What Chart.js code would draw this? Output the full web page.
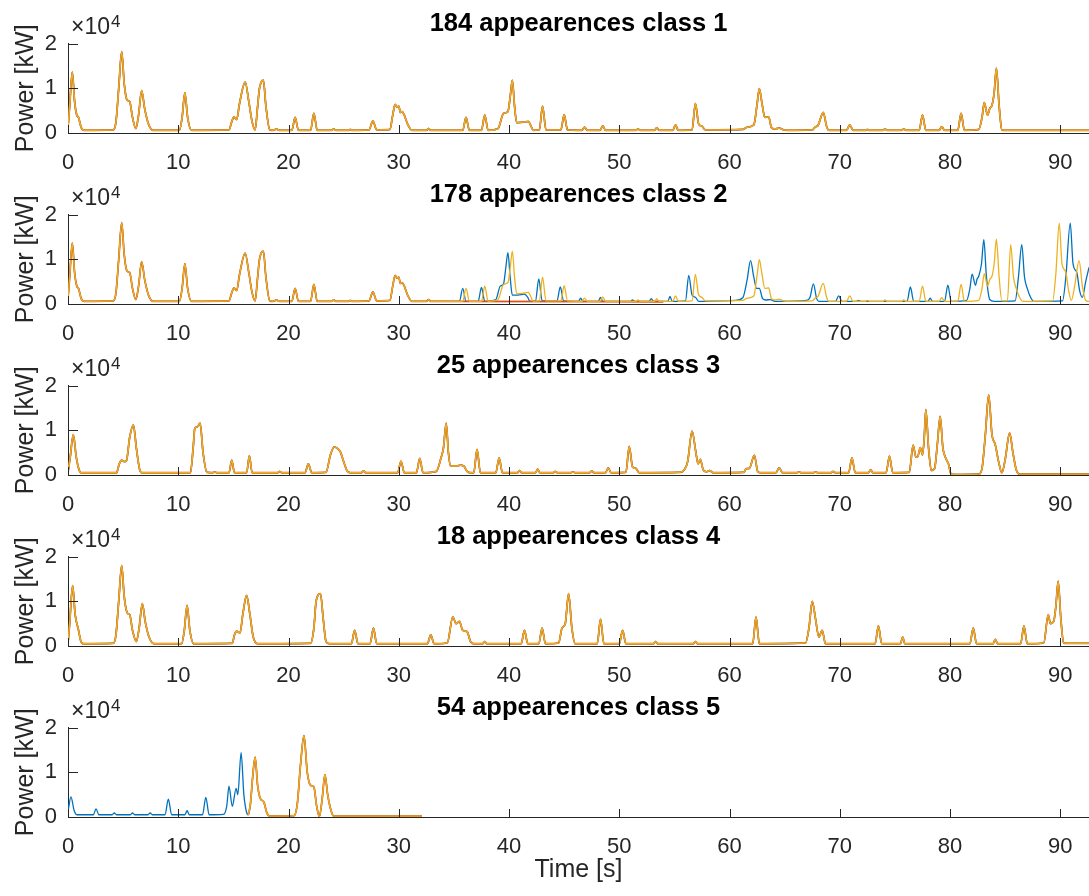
<!DOCTYPE html>
<html>
<head>
<meta charset="utf-8">
<script src="https://cdn.jsdelivr.net/npm/chart.js@4.4.0/dist/chart.umd.min.js"></script>
<style>
  html, body { margin: 0; padding: 0; background: #fff; }
  #figure { position: relative; width: 1089px; height: 896px; overflow: hidden; }
  #figure canvas { position: absolute; left: 0; }
</style>
</head>
<body>
<div id="figure"></div>
<script>
// axis setup
const timeMax = 92.6;
const timeStep = 10;
const powerMax = 20000;
const powerStep = 10000;
const classTitles = [
    '184 appearences class 1',
    '178 appearences class 2',
    '25 appearences class 3',
    '18 appearences class 4',
    '54 appearences class 5'
];

// [time s, power W]
const class1Trace = [
    [0, 1200], [0.15, 6000], [0.39, 13600], [0.6, 7000], [0.8, 4000], [0.95, 3500], [1.2, 1200], [1.5, 600],
    [4.1, 700], [4.35, 2500], [4.6, 10000], [4.87, 18200], [5.1, 11000], [5.35, 7400], [5.6, 7000], [5.85, 3500], [6.15, 1000], [6.4, 4000], [6.68, 9500], [6.95, 5500], [7.3, 2000], [7.75, 600],
    [10.1, 600], [10.35, 3500], [10.6, 9000], [10.85, 3500], [11.2, 600],
    [14.6, 700], [14.85, 2500], [15.05, 3600], [15.3, 3000], [15.55, 6500], [16.07, 11400], [16.4, 7000], [16.7, 2500], [16.97, 700], [17.2, 6000], [17.36, 9900], [17.72, 11800], [17.95, 6000], [18.3, 700], [18.6, 600], [18.9, 900], [19.2, 600],
    [20.3, 600], [20.6, 3500], [20.9, 600],
    [22.0, 600], [22.3, 4400], [22.6, 600],
    [23.9, 600], [24.1, 900], [24.3, 600],
    [25.4, 600], [25.6, 800], [25.8, 600],
    [27.3, 700], [27.65, 2700], [28.0, 700],
    [29.2, 800], [29.45, 4000], [29.67, 6400], [29.85, 5800], [30.0, 6000], [30.15, 4600], [30.3, 4800], [30.5, 4000], [30.8, 2000], [31.2, 600],
    [32.5, 600], [32.7, 1000], [32.9, 600],
    [35.8, 600], [36.1, 3500], [36.4, 600],
    [37.5, 600], [37.8, 4000], [38.1, 600],
    [39.0, 1000], [39.5, 4400], [39.9, 4800], [40.1, 8000], [40.3, 11800], [40.5, 6000], [40.7, 2300], [41.2, 2400], [41.75, 2600], [42.0, 1500], [42.2, 600],
    [42.75, 700], [43.04, 6000], [43.35, 700],
    [44.7, 700], [45.0, 4100], [45.3, 700],
    [46.6, 600], [46.85, 1300], [47.1, 600],
    [48.25, 600], [48.5, 1600], [48.75, 600],
    [51.5, 600], [51.7, 900], [51.9, 600],
    [53.2, 600], [53.4, 1200], [53.6, 600],
    [54.85, 600], [55.1, 1800], [55.35, 600],
    [56.6, 700], [56.9, 6600], [57.2, 2000], [57.5, 1500], [57.8, 700],
    [61.2, 800], [61.6, 1300], [62.2, 1800], [62.5, 6500], [62.7, 9900], [62.95, 6500], [63.2, 3500], [63.55, 3600], [63.8, 1200], [64.1, 900], [64.5, 1100], [64.9, 700], [65.2, 600],
    [67.5, 700], [67.8, 1400], [68.0, 1600], [68.5, 4600], [68.8, 1500], [69.0, 600],
    [70.6, 600], [70.9, 1800], [71.2, 600],
    [72.3, 600], [72.5, 800], [72.7, 600],
    [73.9, 600], [74.1, 900], [74.3, 600],
    [75.6, 600], [75.8, 900], [76.0, 600],
    [77.2, 600], [77.5, 4000], [77.8, 600],
    [79.0, 600], [79.25, 1400], [79.5, 600],
    [80.7, 600], [81.0, 4400], [81.3, 600],
    [82.6, 800], [82.9, 3500], [83.1, 6800], [83.4, 4000], [83.6, 5500], [83.8, 6200], [84.0, 9000], [84.2, 14500], [84.45, 6000], [84.7, 700],
    [85.0, 600], [92.6, 600]
];

const class2BlueTail = [
    [35.5, 600], [35.8, 3500], [36.1, 600],
    [37.2, 600], [37.5, 3700], [37.8, 600],
    [38.8, 1000], [39.2, 4000], [39.5, 4500], [39.7, 8000], [39.9, 11500], [40.1, 6000], [40.3, 2000], [40.8, 2000], [41.4, 2200], [41.7, 1500], [41.9, 600],
    [42.4, 700], [42.7, 5600], [43.0, 700],
    [44.35, 700], [44.65, 3800], [44.95, 700],
    [46.3, 600], [46.5, 1300], [46.7, 600],
    [48.1, 600], [48.3, 1500], [48.5, 600],
    [51.0, 600], [51.2, 900], [51.4, 600],
    [52.7, 600], [52.9, 1200], [53.1, 600],
    [54.4, 600], [54.6, 1700], [54.8, 600],
    [56.0, 700], [56.3, 6400], [56.6, 2000], [56.9, 1500], [57.2, 600],
    [60.5, 800], [61.2, 1400], [61.6, 5500], [61.9, 9700], [62.2, 6000], [62.45, 3500], [62.7, 3500], [63.0, 1200], [63.3, 900], [63.7, 1000], [64.1, 600],
    [67.0, 800], [67.3, 1500], [67.6, 4500], [67.9, 1200], [68.1, 600],
    [69.6, 600], [69.9, 1800], [70.2, 600],
    [71.5, 600], [71.7, 800], [71.9, 600],
    [76.1, 600], [76.4, 3800], [76.7, 600],
    [78.0, 600], [78.2, 1300], [78.4, 600],
    [79.5, 600], [79.8, 4200], [80.1, 600],
    [81.5, 800], [81.8, 3500], [82.0, 6700], [82.3, 4200], [82.45, 5600], [82.6, 6200], [82.85, 9000], [83.06, 14400], [83.3, 6000], [83.6, 1000], [84.0, 600],
    [85.9, 700], [86.2, 6000], [86.5, 13300], [86.75, 6000], [87.0, 3500], [87.3, 1500], [87.6, 600],
    [90.2, 700], [90.5, 6000], [90.9, 18100], [91.15, 9000], [91.5, 7000], [91.75, 3000], [92.0, 1500], [92.3, 5000], [92.6, 8200]
];

const class2OrangeTail = [
    [35.0, 600], [54.0, 500]
];

const class2YellowTail = [
    [85.2, 700], [85.5, 13300], [85.75, 6000], [86.0, 3500], [86.3, 1500], [86.6, 600],
    [89.3, 700], [89.6, 7000], [89.9, 18100], [90.15, 9000], [90.5, 7100], [90.75, 3000], [91.0, 800], [91.3, 4000], [91.7, 9700], [92.0, 4000], [92.3, 800], [92.6, 600]
];

const class3Trace = [
    [0, 600], [0.2, 4000], [0.48, 9000], [0.75, 4000], [1.0, 1200], [1.2, 500],
    [4.4, 500], [4.65, 2500], [4.87, 3300], [5.1, 3000], [5.3, 3200], [5.6, 8500], [5.93, 11200], [6.2, 6000], [6.5, 1200], [6.7, 500],
    [11.1, 500], [11.35, 6000], [11.5, 10400], [11.75, 10800], [11.98, 11600], [12.25, 5000], [12.6, 600], [13.1, 500], [13.3, 700], [13.5, 500],
    [14.6, 500], [14.85, 3300], [15.1, 500],
    [16.2, 500], [16.45, 4300], [16.7, 500],
    [19.0, 500], [19.2, 800], [19.4, 500],
    [21.5, 500], [21.8, 2500], [22.1, 500],
    [23.4, 600], [23.8, 4500], [24.15, 6300], [24.4, 6000], [24.7, 5200], [25.0, 3000], [25.3, 1000], [25.6, 500],
    [26.6, 500], [26.8, 900], [27.0, 500],
    [29.9, 500], [30.2, 3100], [30.5, 500],
    [31.6, 500], [31.9, 3700], [32.2, 500],
    [33.4, 800], [33.85, 4000], [34.05, 6000], [34.3, 11600], [34.5, 5000], [34.7, 2000], [35.2, 2000], [35.6, 2200], [35.9, 2000], [36.2, 800], [36.5, 500],
    [36.8, 500], [37.1, 5700], [37.4, 500],
    [38.8, 500], [39.1, 3800], [39.4, 500],
    [40.75, 500], [40.95, 1000], [41.15, 500],
    [42.4, 500], [42.6, 1300], [42.8, 500],
    [44.0, 500], [44.2, 800], [44.4, 500],
    [45.6, 500], [45.8, 700], [46.0, 500],
    [47.3, 500], [47.5, 900], [47.7, 500],
    [48.75, 500], [49.0, 1600], [49.25, 500],
    [50.6, 600], [50.9, 6400], [51.2, 1800], [51.5, 1500], [51.8, 500],
    [55.5, 600], [55.9, 1200], [56.2, 3000], [56.6, 9800], [56.95, 5000], [57.15, 2500], [57.35, 3500], [57.6, 1200], [57.9, 700], [58.2, 1000], [58.5, 500],
    [61.3, 600], [61.5, 1400], [61.8, 1500], [62.25, 4400], [62.55, 800], [62.8, 500],
    [64.2, 500], [64.5, 1600], [64.8, 500],
    [66.1, 500], [66.3, 700], [66.5, 500],
    [67.6, 500], [67.8, 700], [68.0, 500],
    [69.2, 500], [69.4, 800], [69.6, 500],
    [70.8, 500], [71.1, 3800], [71.4, 500],
    [72.6, 500], [72.8, 1200], [73.0, 500],
    [74.2, 500], [74.5, 4200], [74.8, 500],
    [76.3, 600], [76.65, 6700], [76.9, 4000], [77.05, 4000], [77.3, 6100], [77.5, 4500], [77.65, 8000], [77.8, 14600], [78.05, 6000], [78.3, 1000], [78.6, 1500], [78.85, 7000], [79.1, 13100], [79.35, 6000], [79.6, 3800], [79.85, 2500], [80.1, 200], [80.5, 100],
    [82.6, 200], [82.9, 1500], [83.2, 9000], [83.5, 17900], [83.8, 9000], [84.1, 6800], [84.4, 3000], [84.7, 500], [85.0, 3500], [85.4, 9400], [85.7, 5000], [86.0, 1200], [86.3, 200],
    [92.6, 200]
];

const class4Trace = [
    [0, 600], [0.15, 5000], [0.42, 13500], [0.65, 7000], [0.94, 3700], [1.15, 1200], [1.4, 500],
    [4.1, 600], [4.35, 2500], [4.6, 10000], [4.87, 18000], [5.1, 11000], [5.4, 7300], [5.6, 7000], [5.85, 3500], [6.2, 1000], [6.45, 4000], [6.74, 9500], [7.0, 5500], [7.35, 2000], [7.8, 500],
    [10.3, 500], [10.55, 3500], [10.8, 9100], [11.05, 3500], [11.4, 500],
    [14.9, 600], [15.1, 2500], [15.3, 3300], [15.6, 2900], [15.85, 7000], [16.2, 11300], [16.5, 7000], [16.8, 2000], [17.2, 500],
    [22.0, 600], [22.3, 4000], [22.5, 10000], [22.9, 11700], [23.15, 6000], [23.4, 1000], [23.7, 500],
    [25.7, 500], [26.0, 3500], [26.3, 500],
    [27.4, 500], [27.7, 4000], [28.0, 500],
    [32.6, 500], [32.9, 2500], [33.2, 500],
    [34.4, 700], [34.9, 6500], [35.2, 5000], [35.5, 5500], [35.8, 3500], [36.2, 3200], [36.5, 1000], [36.8, 500],
    [37.6, 500], [37.8, 1000], [38.0, 500],
    [41.1, 500], [41.4, 3500], [41.7, 500],
    [42.7, 500], [43.0, 4000], [43.3, 500],
    [44.5, 700], [44.8, 4000], [45.1, 5000], [45.4, 11700], [45.7, 4000], [46.0, 500],
    [48.0, 500], [48.3, 6000], [48.6, 500],
    [50.0, 500], [50.3, 3500], [50.6, 500],
    [53.1, 500], [53.3, 1000], [53.5, 500],
    [56.7, 500], [56.9, 1000], [57.1, 500],
    [62.1, 500], [62.4, 6500], [62.7, 500],
    [66.9, 700], [67.2, 4000], [67.5, 10000], [67.8, 6000], [68.1, 2000], [68.4, 3500], [68.7, 500],
    [73.2, 500], [73.5, 4500], [73.8, 500],
    [75.5, 500], [75.7, 2000], [75.9, 500],
    [81.8, 500], [82.1, 4000], [82.4, 500],
    [83.9, 500], [84.1, 1500], [84.3, 500],
    [86.4, 500], [86.7, 4500], [87.0, 500],
    [88.5, 700], [88.9, 7000], [89.1, 5000], [89.4, 5500], [89.6, 9000], [89.8, 14500], [90.05, 6000], [90.3, 700], [90.6, 600],
    [92.6, 600]
];

const class5BlueHead = [
    [0, 1200], [0.27, 4500], [0.55, 1500], [0.8, 500],
    [2.3, 500], [2.54, 1800], [2.8, 500],
    [4.0, 500], [4.2, 900], [4.4, 500],
    [5.65, 500], [5.85, 900], [6.05, 500],
    [7.25, 500], [7.45, 900], [7.65, 500],
    [8.8, 500], [9.1, 4000], [9.4, 500],
    [10.6, 500], [10.8, 1400], [11.0, 500],
    [12.2, 500], [12.5, 4400], [12.8, 500],
    [14.1, 600], [14.4, 2500], [14.6, 6900], [14.9, 2400], [15.25, 6400], [15.4, 5000], [15.7, 14400], [15.95, 5000], [16.2, 1000]
];

const class5Match = [
    [16.35, 500], [16.55, 3000], [16.75, 9000], [16.97, 13400], [17.2, 7000], [17.45, 4100], [17.75, 3400], [18.05, 800], [18.3, 200],
    [20.5, 300], [20.8, 3000], [21.1, 12000], [21.4, 18200], [21.7, 10000], [22.0, 7100], [22.3, 6700], [22.55, 2500], [22.8, 100],
    [23.05, 4000], [23.3, 9500], [23.55, 5000], [23.85, 1500], [24.1, 200],
    [32.1, 200]
];

const blue = '#0072BD';
const orange = '#D95319';
const yellow = '#EDB120';
const axisColor = '#262626';
const fontFamily = "'Liberation Sans', Arial, Helvetica, sans-serif";

const class2Start = class1Trace.filter(function (p) { return p[0] <= 33; });
const class2Yellow = class1Trace.filter(function (p) { return p[0] <= 84.7; }).concat(class2YellowTail);

const panels = [
    { title: classTitles[0], series: [[class1Trace, yellow, 1.4], [class1Trace, orange, 1.8], [class1Trace, blue, 1.5]] },
    { title: classTitles[1], series: [[class2Yellow, yellow, 1.3], [class2Start.concat(class2OrangeTail), orange, 1.8], [class2Start.concat(class2BlueTail), blue, 1.3]] },
    { title: classTitles[2], series: [[class3Trace, yellow, 1.4], [class3Trace, orange, 1.8], [class3Trace, blue, 1.5]] },
    { title: classTitles[3], series: [[class4Trace, yellow, 1.4], [class4Trace, orange, 1.8], [class4Trace, blue, 1.5]] },
    { title: classTitles[4], series: [[class5Match, yellow, 1.4], [class5Match, orange, 1.8], [class5BlueHead.concat(class5Match), blue, 1.3]] }
];

const panelStep = 171;
const plotBottom = 133;

// MATLAB style: ticks pointing inward plus the x10^4 exponent label
const matlabAxesPlugin = {
    id: 'matlabAxes',
    afterDraw: function (chart) {
        const ctx = chart.ctx;
        const area = chart.chartArea;
        const xScale = chart.scales.x;
        const yScale = chart.scales.y;

        ctx.save();
        ctx.strokeStyle = axisColor;
        ctx.lineWidth = 1;
        ctx.beginPath();
        xScale.ticks.forEach(function (tick) {
            const px = Math.round(xScale.getPixelForValue(tick.value)) + 0.5;
            ctx.moveTo(px, area.bottom);
            ctx.lineTo(px, area.bottom - 8);
        });
        yScale.ticks.forEach(function (tick) {
            const py = Math.round(yScale.getPixelForValue(tick.value)) + 0.5;
            ctx.moveTo(area.left, py);
            ctx.lineTo(area.left + 10, py);
        });
        ctx.stroke();

        ctx.fillStyle = axisColor;
        ctx.textBaseline = 'alphabetic';
        ctx.textAlign = 'left';
        ctx.font = '23px ' + fontFamily;
        ctx.fillText('\u00d710', area.left + 3, area.top - 10);
        const baseWidth = ctx.measureText('\u00d710').width;
        ctx.font = '17px ' + fontFamily;
        ctx.fillText('4', area.left + 3 + baseWidth + 1, area.top - 17);
        ctx.restore();
    }
};

function createPanel(panel, index) {
    const isLast = index === panels.length - 1;
    const canvas = document.createElement('canvas');
    const height = isLast ? 896 - index * panelStep : 205;
    canvas.width = 1089;
    canvas.height = height;
    canvas.style.width = '1089px';
    canvas.style.height = height + 'px';
    canvas.style.top = (index * panelStep) + 'px';
    document.getElementById('figure').appendChild(canvas);

    const tickFont = { family: fontFamily, size: 22 };
    const labelFont = { family: fontFamily, size: 25 };

    new Chart(canvas, {
        type: 'line',
        data: {
            datasets: panel.series.map(function (s) {
                return {
                    data: s[0],
                    borderColor: s[1],
                    borderWidth: s[2],
                    pointRadius: 0,
                    fill: false,
                    cubicInterpolationMode: 'monotone'
                };
            })
        },
        options: {
            responsive: false,
            animation: false,
            devicePixelRatio: 1,
            events: [],
            layout: { padding: 0 },
            plugins: {
                legend: { display: false },
                tooltip: { enabled: false },
                title: {
                    display: true,
                    text: panel.title,
                    fullSize: false,
                    color: '#000',
                    font: { family: fontFamily, size: 25.5, weight: 'bold' },
                    padding: { top: 9, bottom: 4 }
                }
            },
            scales: {
                x: {
                    type: 'linear',
                    min: 0,
                    max: timeMax,
                    grid: { display: false },
                    border: { display: true, color: axisColor, width: 1 },
                    ticks: {
                        stepSize: timeStep,
                        includeBounds: false,
                        autoSkip: false,
                        maxRotation: 0,
                        padding: 9,
                        color: axisColor,
                        font: tickFont
                    },
                    title: {
                        display: isLast,
                        text: 'Time [s]',
                        color: axisColor,
                        font: labelFont,
                        padding: { top: 0, bottom: 11 }
                    },
                    afterFit: function (scale) {
                        scale.height = height - plotBottom;
                    }
                },
                y: {
                    min: 0,
                    max: powerMax,
                    grid: { display: false },
                    border: { display: true, color: axisColor, width: 1 },
                    ticks: {
                        stepSize: powerStep,
                        padding: 3,
                        color: axisColor,
                        font: tickFont,
                        callback: function (value) {
                            return value / powerStep;
                        }
                    },
                    title: {
                        display: true,
                        text: 'Power [kW]',
                        color: axisColor,
                        font: labelFont,
                        padding: { top: 11, bottom: 0 }
                    },
                    afterFit: function (scale) {
                        scale.width = 68;
                    }
                }
            }
        },
        plugins: [matlabAxesPlugin]
    });
}

panels.forEach(createPanel);
</script>
</body>
</html>
